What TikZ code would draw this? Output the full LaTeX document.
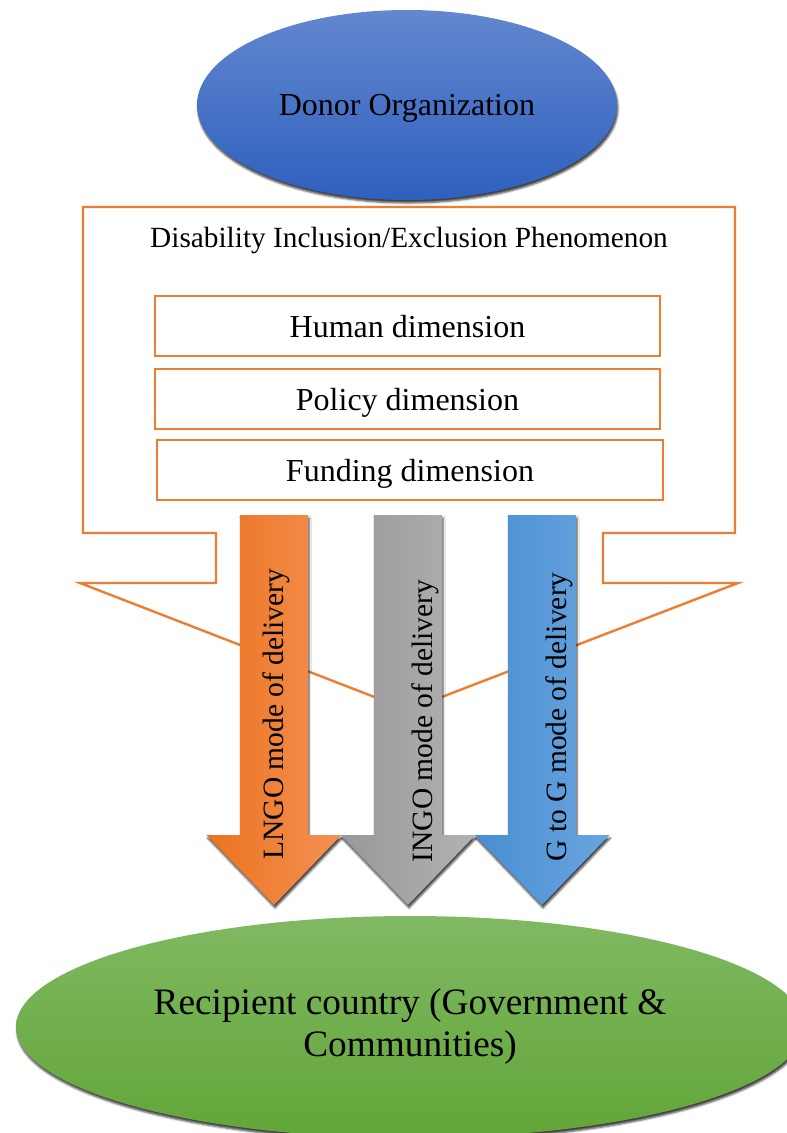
\documentclass[tikz,border=0pt]{standalone}
\usepackage{fontspec}
\setmainfont{Liberation Serif}
\usetikzlibrary{shapes.geometric,shadows.blur}

\definecolor{lineorange}{RGB}{237,125,49}
\definecolor{donortop}{RGB}{99,135,207}
\definecolor{donorbottom}{RGB}{46,96,190}
\definecolor{greentop}{RGB}{128,185,98}
\definecolor{greenbottom}{RGB}{98,165,56}
\definecolor{orangeleft}{RGB}{235,115,30}
\definecolor{orangeright}{RGB}{244,145,85}
\definecolor{greyleft}{RGB}{152,152,152}
\definecolor{greyright}{RGB}{178,178,178}
\definecolor{blueleft}{RGB}{72,142,210}
\definecolor{blueright}{RGB}{106,165,222}

\tikzset{
  softshadow/.style={blur shadow={shadow xshift=1pt, shadow yshift=-3pt,
      shadow blur steps=4, shadow blur radius=2pt, shadow opacity=75}},
  oval/.style={ellipse, inner sep=0pt, softshadow},
  dimbox/.style={draw=lineorange, line width=2.4pt, fill=white, inner sep=0pt,
      minimum height=60pt, text depth=0pt, font=\fontsize{32}{38}\selectfont},
  callout/.style={draw=lineorange, line width=2.4pt, fill=white, line join=miter},
  arrowtext/.style={rotate=90, anchor=base, inner sep=0pt,
      font=\fontsize{29.5}{35}\selectfont},
}

% one downward block arrow centred on x = #1, shaded from #2 (left) to #3 (right)
\newcommand{\deliveryarrow}[3]{%
  \path[softshadow, left color=#2, right color=#3]
    (#1-34,515) -- (#1+34,515) -- (#1+34,835) -- (#1+67.5,835)
    -- (#1,905) -- (#1-67.5,835) -- (#1-34,835) -- cycle;}

\begin{document}
\begin{tikzpicture}[x=1pt, y=-1pt]
\useasboundingbox (0,0) rectangle (787,1133);

% donor at the top
\node[oval, minimum width=420pt, minimum height=190pt, text depth=0pt,
      top color=donortop, bottom color=donorbottom,
      font=\fontsize{32}{38}\selectfont] (donor) at (407,105) {Donor Organization};

% the phenomenon callout with its pointer
\draw[callout] (83,207) -- (735,207) -- (735,533) -- (603,533) -- (603,583)
  -- (738,583) -- (408,710) -- (80,583) -- (216,583) -- (216,533)
  -- (83,533) -- cycle;
\node[font=\fontsize{29.3}{35}\selectfont, text depth=0pt] (phen) at (409,237)
  {Disability Inclusion/Exclusion Phenomenon};

% the three dimensions
\node[dimbox, minimum width=505pt] (human)   at (407.5,326) {Human dimension};
\node[dimbox, minimum width=505pt] (policy)  at (407.5,399) {Policy dimension};
\node[dimbox, minimum width=506pt] (funding) at (410,470)   {Funding dimension};

% modes of delivery
\deliveryarrow{274}{orangeleft}{orangeright}
\deliveryarrow{408}{greyleft}{greyright}
\deliveryarrow{542}{blueleft}{blueright}
\node[arrowtext] (lngo) at (283,714) {LNGO mode of delivery};
\node[arrowtext] (ingo) at (432,721) {INGO mode of delivery};
\node[arrowtext] (gtog) at (566,717) {G to G mode of delivery};

% recipient at the bottom
\node[oval, minimum width=788pt, minimum height=222pt,
      top color=greentop, bottom color=greenbottom, align=center,
      font=\fontsize{37.3}{42}\selectfont] (recipient) at (410,1027)
  {Recipient country (Government \&\\Communities)};
\end{tikzpicture}
\end{document}
